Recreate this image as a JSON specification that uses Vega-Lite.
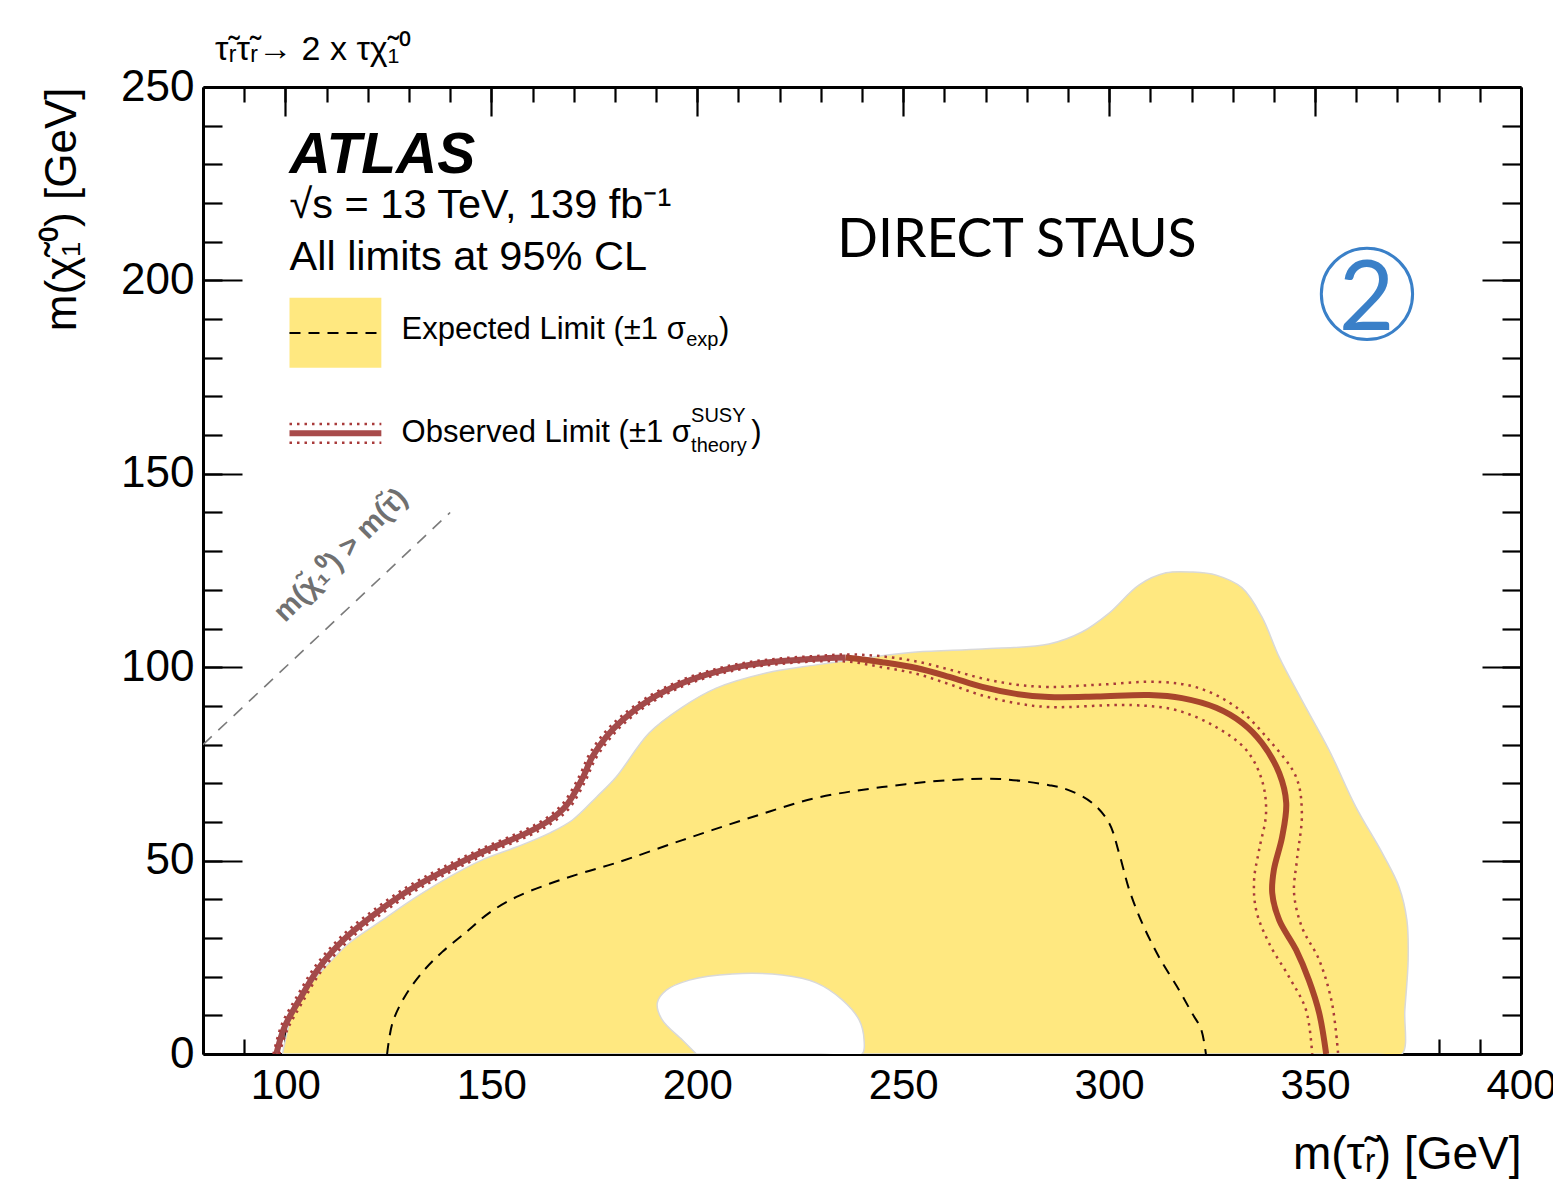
{
  "$schema": "https://vega.github.io/schema/vega-lite/v6.json",
  "width": 1318,
  "height": 967,
  "autosize": {"type": "none"},
  "padding": {"left": 203, "top": 87, "right": 32, "bottom": 137},
  "background": "white",
  "title": {"text": "τ̃ᵣτ̃ᵣ→ 2 x τχ̃₁⁰", "anchor": "start", "frame": "group", "fontSize": 34, "font": "Liberation Sans", "fontWeight": "normal", "color": "black", "dx": 12, "dy": 54, "offset": 25, "baseline": "alphabetic"},
  "datasets": {
    "band": [
      {"i":0,"x":99.3,"y":0},{"i":1,"x":100.3,"y":5},{"i":2,"x":101.7,"y":10.6},{"i":3,"x":104.5,"y":15.5},{"i":4,"x":107.5,"y":19.9},{"i":5,"x":111.5,"y":24.5},{"i":6,"x":115.5,"y":28.7},{"i":7,"x":123.5,"y":34.6},{"i":8,"x":131.8,"y":40.6},{"i":9,"x":139.8,"y":45.8},{"i":10,"x":147.8,"y":50.2},{"i":11,"x":156.1,"y":53.5},{"i":12,"x":164.1,"y":57.1},{"i":13,"x":169.7,"y":60.5},{"i":14,"x":175.5,"y":66.4},{"i":15,"x":180.3,"y":71.6},{"i":16,"x":188.3,"y":83},{"i":17,"x":196.4,"y":89.7},{"i":18,"x":204.6,"y":94.6},{"i":19,"x":216.7,"y":98.5},{"i":20,"x":228.9,"y":100.6},{"i":21,"x":241,"y":102.4},{"i":22,"x":253.2,"y":103.9},{"i":23,"x":269.2,"y":104.7},{"i":24,"x":285.4,"y":106},{"i":25,"x":293.4,"y":109.1},{"i":26,"x":300,"y":114},{"i":27,"x":307.3,"y":121.3},{"i":28,"x":313.8,"y":124.4},{"i":29,"x":320.1,"y":124.6},{"i":30,"x":326,"y":123.8},{"i":31,"x":332.3,"y":120.5},{"i":32,"x":337.1,"y":113},{"i":33,"x":341.3,"y":102.6},{"i":34,"x":346.8,"y":91.5},{"i":35,"x":353.4,"y":78.6},{"i":36,"x":359.9,"y":63.9},{"i":37,"x":366.3,"y":52},{"i":38,"x":370.4,"y":43.2},{"i":39,"x":372.3,"y":34.6},{"i":40,"x":372.6,"y":24.3},{"i":41,"x":371.8,"y":11.4},{"i":42,"x":371.1,"y":0},{"i":43,"x":365,"y":0},{"i":44,"x":105,"y":0},{"i":45,"x":99.3,"y":0}
    ],
    "hole": [
      {"i":0,"x":199.8,"y":0},{"i":1,"x":196.4,"y":3.6},{"i":2,"x":191.5,"y":8.8},{"i":3,"x":190.3,"y":13.2},{"i":4,"x":192.5,"y":16.5},{"i":5,"x":198.1,"y":19.1},{"i":6,"x":208.5,"y":20.7},{"i":7,"x":220.6,"y":20.4},{"i":8,"x":228.9,"y":18.4},{"i":9,"x":235.2,"y":14},{"i":10,"x":239.3,"y":8.8},{"i":11,"x":240.5,"y":3.6},{"i":12,"x":240,"y":0},{"i":13,"x":230,"y":0},{"i":14,"x":210,"y":0},{"i":15,"x":199.8,"y":0}
    ],
    "legbox": [{"x":101,"x2":123.3,"y":177.4,"y2":195.5}],
    "exp": [
      {"s":"c","i":0,"x":124.7,"y":0},{"s":"c","i":1,"x":126,"y":8},{"s":"c","i":2,"x":128.9,"y":14.7},{"s":"c","i":3,"x":133.3,"y":21.2},{"s":"c","i":4,"x":138.1,"y":26.4},{"s":"c","i":5,"x":143.9,"y":31.5},{"s":"c","i":6,"x":149.5,"y":36.5},{"s":"c","i":7,"x":156.1,"y":40.6},{"s":"c","i":8,"x":164.1,"y":44},{"s":"c","i":9,"x":172,"y":46.8},{"s":"c","i":10,"x":180.3,"y":49.4},{"s":"c","i":11,"x":196.4,"y":55.3},{"s":"c","i":12,"x":212.6,"y":61},{"s":"c","i":13,"x":228.9,"y":66.2},{"s":"c","i":14,"x":244.9,"y":69},{"s":"c","i":15,"x":261.2,"y":70.8},{"s":"c","i":16,"x":273.3,"y":71.1},{"s":"c","i":17,"x":285.4,"y":69.5},{"s":"c","i":18,"x":290,"y":68.3},{"s":"c","i":19,"x":295.9,"y":64.9},{"s":"c","i":20,"x":300,"y":59.7},{"s":"c","i":21,"x":302.4,"y":52},{"s":"c","i":22,"x":304.9,"y":42.4},{"s":"c","i":23,"x":308,"y":33.9},{"s":"c","i":24,"x":312.1,"y":25.1},{"s":"c","i":25,"x":317,"y":16.5},{"s":"c","i":26,"x":320.1,"y":10.6},{"s":"c","i":27,"x":322.3,"y":6.5},{"s":"c","i":28,"x":323.5,"y":0},
      {"s":"leg","i":0,"x":101,"y":186.4},{"s":"leg","i":1,"x":123.3,"y":186.4}
    ],
    "diag": [{"i":0,"x":80,"y":80},{"i":1,"x":140,"y":140}],
    "obs": [
      {"s":"a","i":0,"x":97.8,"y":0},{"s":"a","i":1,"x":99.8,"y":7},{"s":"a","i":2,"x":103.4,"y":14},{"s":"a","i":3,"x":108.3,"y":22.5},{"s":"a","i":4,"x":114.8,"y":30.2},{"s":"a","i":5,"x":122.1,"y":36.5},{"s":"a","i":6,"x":130.1,"y":42.4},{"s":"a","i":7,"x":138.1,"y":47.1},{"s":"a","i":8,"x":147.8,"y":52.2},{"s":"a","i":9,"x":158.5,"y":57.1},{"s":"a","i":10,"x":164.1,"y":60.4},{"s":"a","i":11,"x":168.2,"y":64.2},{"s":"a","i":12,"x":172.1,"y":71.2},{"s":"a","i":13,"x":174.5,"y":76.8},{"s":"a","i":14,"x":177.9,"y":82},{"s":"a","i":15,"x":181.8,"y":86.3},{"s":"a","i":16,"x":188.3,"y":91.5},{"s":"a","i":17,"x":196.4,"y":95.9},{"s":"a","i":18,"x":204.6,"y":98.8},{"s":"a","i":19,"x":212.6,"y":100.6},{"s":"a","i":20,"x":220.6,"y":101.6},{"s":"a","i":21,"x":228.9,"y":102.2},{"s":"a","i":22,"x":236,"y":102.5},
      {"s":"b","i":0,"x":236,"y":102.5},{"s":"b","i":1,"x":244.9,"y":101.3},{"s":"b","i":2,"x":253.2,"y":99.8},{"s":"b","i":3,"x":261.2,"y":97.5},{"s":"b","i":4,"x":269.2,"y":94.9},{"s":"b","i":5,"x":277.4,"y":93.1},{"s":"b","i":6,"x":285.4,"y":92.3},{"s":"b","i":7,"x":297,"y":92.4},{"s":"b","i":8,"x":309.7,"y":92.8},{"s":"b","i":9,"x":317.7,"y":92},{"s":"b","i":10,"x":326,"y":89.5},{"s":"b","i":11,"x":332.3,"y":85.6},{"s":"b","i":12,"x":337.1,"y":80.4},{"s":"b","i":13,"x":341.3,"y":72.6},{"s":"b","i":14,"x":343,"y":64.9},{"s":"b","i":15,"x":342,"y":56.1},{"s":"b","i":16,"x":340,"y":47.6},{"s":"b","i":17,"x":339.6,"y":41.6},{"s":"b","i":18,"x":341.3,"y":34.6},{"s":"b","i":19,"x":345.4,"y":26.9},{"s":"b","i":20,"x":348.5,"y":19.1},{"s":"b","i":21,"x":351,"y":10.6},{"s":"b","i":22,"x":352.7,"y":0},
      {"s":"leg","i":0,"x":101,"y":160.5},{"s":"leg","i":1,"x":123.3,"y":160.5}
    ],
    "up": [
      {"s":"c","i":0,"x":97.1,"y":0},{"s":"c","i":1,"x":99.1,"y":7.6},{"s":"c","i":2,"x":102.7,"y":14.7},{"s":"c","i":3,"x":107.6,"y":23.2},{"s":"c","i":4,"x":114.1,"y":30.9},{"s":"c","i":5,"x":121.4,"y":37.2},{"s":"c","i":6,"x":129.4,"y":43.1},{"s":"c","i":7,"x":137.4,"y":47.8},{"s":"c","i":8,"x":147.2,"y":52.9},{"s":"c","i":9,"x":157.9,"y":57.8},{"s":"c","i":10,"x":163.5,"y":61.1},{"s":"c","i":11,"x":167.5,"y":64.9},{"s":"c","i":12,"x":171.4,"y":71.9},{"s":"c","i":13,"x":173.8,"y":77.5},{"s":"c","i":14,"x":177.2,"y":82.7},{"s":"c","i":15,"x":181.2,"y":87},{"s":"c","i":16,"x":187.8,"y":92.2},{"s":"c","i":17,"x":196,"y":96.6},{"s":"c","i":18,"x":204.3,"y":99.5},{"s":"c","i":19,"x":212.4,"y":101.3},{"s":"c","i":20,"x":220.5,"y":102.3},{"s":"c","i":21,"x":228.9,"y":102.9},{"s":"c","i":22,"x":236.9,"y":103.3},{"s":"c","i":23,"x":244.9,"y":102.8},{"s":"c","i":24,"x":253.2,"y":101.5},{"s":"c","i":25,"x":261.2,"y":99.4},{"s":"c","i":26,"x":269.2,"y":97.1},{"s":"c","i":27,"x":277.4,"y":95.5},{"s":"c","i":28,"x":285.4,"y":94.9},{"s":"c","i":29,"x":298,"y":95.5},{"s":"c","i":30,"x":312.1,"y":96.2},{"s":"c","i":31,"x":321.8,"y":94.6},{"s":"c","i":32,"x":330.8,"y":89.7},{"s":"c","i":33,"x":338.8,"y":81.2},{"s":"c","i":34,"x":345.4,"y":71.6},{"s":"c","i":35,"x":346.8,"y":62.3},{"s":"c","i":36,"x":345.6,"y":50.2},{"s":"c","i":37,"x":344.9,"y":41.6},{"s":"c","i":38,"x":346.8,"y":32.8},{"s":"c","i":39,"x":351,"y":24.3},{"s":"c","i":40,"x":354.1,"y":13.2},{"s":"c","i":41,"x":355.6,"y":0},
      {"s":"leg","i":0,"x":101,"y":162.9},{"s":"leg","i":1,"x":123.3,"y":162.9}
    ],
    "dn": [
      {"s":"c","i":0,"x":98.5,"y":0},{"s":"c","i":1,"x":100.5,"y":6.3},{"s":"c","i":2,"x":104.1,"y":13.3},{"s":"c","i":3,"x":109,"y":21.8},{"s":"c","i":4,"x":115.5,"y":29.5},{"s":"c","i":5,"x":122.8,"y":35.8},{"s":"c","i":6,"x":130.8,"y":41.7},{"s":"c","i":7,"x":138.8,"y":46.4},{"s":"c","i":8,"x":148.4,"y":51.5},{"s":"c","i":9,"x":159.1,"y":56.4},{"s":"c","i":10,"x":164.7,"y":59.7},{"s":"c","i":11,"x":168.9,"y":63.5},{"s":"c","i":12,"x":172.8,"y":70.5},{"s":"c","i":13,"x":175.2,"y":76.1},{"s":"c","i":14,"x":178.6,"y":81.3},{"s":"c","i":15,"x":182.4,"y":85.6},{"s":"c","i":16,"x":188.8,"y":90.8},{"s":"c","i":17,"x":196.8,"y":95.2},{"s":"c","i":18,"x":204.9,"y":98.1},{"s":"c","i":19,"x":212.8,"y":99.9},{"s":"c","i":20,"x":220.7,"y":100.9},{"s":"c","i":21,"x":228.9,"y":101.5},{"s":"c","i":22,"x":236.9,"y":101.4},{"s":"c","i":23,"x":244.9,"y":100},{"s":"c","i":24,"x":253.2,"y":98.3},{"s":"c","i":25,"x":261.2,"y":95.6},{"s":"c","i":26,"x":269.2,"y":92.7},{"s":"c","i":27,"x":277.4,"y":90.7},{"s":"c","i":28,"x":285.4,"y":89.7},{"s":"c","i":29,"x":305.6,"y":90.2},{"s":"c","i":30,"x":316.3,"y":88.9},{"s":"c","i":31,"x":326,"y":84.5},{"s":"c","i":32,"x":333.3,"y":78.6},{"s":"c","i":33,"x":337.1,"y":70.8},{"s":"c","i":34,"x":338.1,"y":62.3},{"s":"c","i":35,"x":336.4,"y":52.7},{"s":"c","i":36,"x":335.2,"y":45},{"s":"c","i":37,"x":335.7,"y":37.2},{"s":"c","i":38,"x":338.8,"y":28.7},{"s":"c","i":39,"x":343.7,"y":19.9},{"s":"c","i":40,"x":347.8,"y":11.4},{"s":"c","i":41,"x":349.3,"y":0},
      {"s":"leg","i":0,"x":101,"y":158},{"s":"leg","i":1,"x":123.3,"y":158}
    ],
    "t_atlas": [{"x":101,"y":227.7,"t":"ATLAS"}],
    "t_info": [{"x":101,"y":216.1,"t":"√s = 13 TeV, 139 fb⁻¹"},{"x":101,"y":202.7,"t":"All limits at 95% CL"}],
    "t_direct": [{"x":234,"y":206.1,"t":"DIRECT STAUS"}],
    "t_leg": [{"x":128.2,"y":184.8,"t":"Expected Limit (±1 σ"},{"x":205.3,"y":184.8,"t":")"},{"x":128.2,"y":158.3,"t":"Observed Limit (±1 σ"},{"x":213.1,"y":158.3,"t":")"}],
    "t_small": [{"x":197.3,"y":183.0,"t":"exp"},{"x":198.5,"y":163.5,"t":"SUSY"},{"x":198.5,"y":155.7,"t":"theory"}],
    "t_two": [{"x":362.5,"y":187.2,"t":"2"}],
    "circ": [{"x":362.6,"y":196.5}],
    "t_diag": [{"x":113.4,"y":129,"t":"m(χ̃₁⁰) > m(τ̃)"}]
  },
  "layer": [
    {
      "data": {"name": "band"},
      "mark": {"type": "line", "fill": "#FFE880", "stroke": "#D9D9D9", "strokeWidth": 1.5, "interpolate": "catmull-rom", "clip": true},
      "encoding": {
        "x": {"field": "x", "type": "quantitative", "scale": {"domain": [80, 400], "nice": false, "zero": false},
          "axis": {"orient": "bottom", "values": [100,150,200,250,300,350,400], "ticks": false, "domain": true, "labelFontSize": 42, "labelPadding": 11, "labelFlush": false, "labelOverlap": false, "title": "m(τ̃ᵣ) [GeV]", "titleFontSize": 46, "titleFontWeight": "normal", "titleAnchor": "end", "titlePadding": 26}},
        "y": {"field": "y", "type": "quantitative", "scale": {"domain": [0, 250], "nice": false, "zero": false},
          "axis": {"orient": "left", "values": [0,50,100,150,200,250], "ticks": false, "domain": true, "labelFontSize": 44, "labelPadding": 9, "labelFlush": false, "labelOverlap": false, "title": "m(χ̃₁⁰) [GeV]", "titleFontSize": 44, "titleFontWeight": "normal", "titleAnchor": "end", "titlePadding": 36}},
        "order": {"field": "i", "type": "quantitative"}
      }
    },
    {
      "data": {"name": "legbox"},
      "mark": {"type": "rect", "color": "#FFE880"},
      "encoding": {
        "x": {"field": "x", "type": "quantitative", "scale": {"domain": [80, 400], "nice": false, "zero": false}, "axis": null},
        "x2": {"field": "x2"},
        "y": {"field": "y", "type": "quantitative", "scale": {"domain": [0, 250], "nice": false, "zero": false}, "axis": null},
        "y2": {"field": "y2"}
      }
    },
    {
      "data": {"name": "hole"},
      "mark": {"type": "line", "fill": "white", "stroke": "#D9D9D9", "strokeWidth": 1.5, "interpolate": "catmull-rom", "clip": true},
      "encoding": {
        "x": {"field": "x", "type": "quantitative", "scale": {"domain": [80, 400], "nice": false, "zero": false},
          "axis": {"orient": "bottom", "values": [80,90,100,110,120,130,140,150,160,170,180,190,200,210,220,230,240,250,260,270,280,290,300,310,320,330,340,350,360,370,380,390,400], "tickSize": -15, "labels": false, "domain": false, "title": null}},
        "y": {"field": "y", "type": "quantitative", "scale": {"domain": [0, 250], "nice": false, "zero": false},
          "axis": {"orient": "left", "values": [0,10,20,30,40,50,60,70,80,90,100,110,120,130,140,150,160,170,180,190,200,210,220,230,240,250], "tickSize": -19, "labels": false, "domain": false, "title": null}},
        "order": {"field": "i", "type": "quantitative"}
      }
    },
    {
      "data": {"name": "exp"},
      "mark": {"type": "line", "color": "black", "strokeWidth": 2, "strokeDash": [11, 8], "interpolate": "catmull-rom", "clip": true},
      "encoding": {
        "x": {"field": "x", "type": "quantitative", "scale": {"domain": [80, 400], "nice": false, "zero": false},
          "axis": {"orient": "bottom", "values": [100,150,200,250,300,350], "tickSize": -29, "labels": false, "domain": false, "title": null}},
        "y": {"field": "y", "type": "quantitative", "scale": {"domain": [0, 250], "nice": false, "zero": false},
          "axis": {"orient": "left", "values": [50,100,150,200], "tickSize": -39, "labels": false, "domain": false, "title": null}},
        "detail": {"field": "s", "type": "nominal"},
        "order": {"field": "i", "type": "quantitative"}
      }
    },
    {
      "data": {"name": "diag"},
      "mark": {"type": "line", "color": "#7A7A7A", "strokeWidth": 1.6, "strokeDash": [12, 9], "clip": true},
      "encoding": {
        "x": {"field": "x", "type": "quantitative", "scale": {"domain": [80, 400], "nice": false, "zero": false}, "axis": null},
        "y": {"field": "y", "type": "quantitative", "scale": {"domain": [0, 250], "nice": false, "zero": false}, "axis": null},
        "order": {"field": "i", "type": "quantitative"}
      }
    },
    {
      "data": {"name": "obs"},
      "mark": {"type": "line", "strokeWidth": 6, "interpolate": "catmull-rom", "clip": true},
      "encoding": {
        "x": {"field": "x", "type": "quantitative", "scale": {"domain": [80, 400], "nice": false, "zero": false}, "axis": null},
        "y": {"field": "y", "type": "quantitative", "scale": {"domain": [0, 250], "nice": false, "zero": false}, "axis": null},
        "color": {"field": "s", "type": "nominal", "scale": {"domain": ["a", "b", "leg"], "range": ["#A34A4A", "#A8452C", "#A84B4B"]}, "legend": null},
        "order": {"field": "i", "type": "quantitative"}
      }
    },
    {
      "data": {"name": "up"},
      "mark": {"type": "line", "color": "#A83A3A", "strokeWidth": 2.5, "strokeDash": [2.5, 5], "interpolate": "catmull-rom", "clip": true},
      "encoding": {
        "x": {"field": "x", "type": "quantitative", "scale": {"domain": [80, 400], "nice": false, "zero": false},
          "axis": {"orient": "top", "values": [80,90,100,110,120,130,140,150,160,170,180,190,200,210,220,230,240,250,260,270,280,290,300,310,320,330,340,350,360,370,380,390,400], "tickSize": -15, "labels": false, "domain": true, "title": null}},
        "y": {"field": "y", "type": "quantitative", "scale": {"domain": [0, 250], "nice": false, "zero": false},
          "axis": {"orient": "right", "values": [0,10,20,30,40,50,60,70,80,90,100,110,120,130,140,150,160,170,180,190,200,210,220,230,240,250], "tickSize": -19, "labels": false, "domain": true, "title": null}},
        "detail": {"field": "s", "type": "nominal"},
        "order": {"field": "i", "type": "quantitative"}
      }
    },
    {
      "data": {"name": "dn"},
      "mark": {"type": "line", "color": "#A83A3A", "strokeWidth": 2.5, "strokeDash": [2.5, 5], "interpolate": "catmull-rom", "clip": true},
      "encoding": {
        "x": {"field": "x", "type": "quantitative", "scale": {"domain": [80, 400], "nice": false, "zero": false},
          "axis": {"orient": "top", "values": [100,150,200,250,300,350], "tickSize": -29, "labels": false, "domain": false, "title": null}},
        "y": {"field": "y", "type": "quantitative", "scale": {"domain": [0, 250], "nice": false, "zero": false},
          "axis": {"orient": "right", "values": [50,100,150,200], "tickSize": -39, "labels": false, "domain": false, "title": null}},
        "detail": {"field": "s", "type": "nominal"},
        "order": {"field": "i", "type": "quantitative"}
      }
    },
    {
      "data": {"name": "t_atlas"},
      "mark": {"type": "text", "font": "Liberation Sans", "fontSize": 57, "fontWeight": "bold", "fontStyle": "italic", "align": "left", "baseline": "alphabetic", "color": "black"},
      "encoding": {
        "x": {"field": "x", "type": "quantitative", "scale": {"domain": [80, 400], "nice": false, "zero": false}, "axis": null},
        "y": {"field": "y", "type": "quantitative", "scale": {"domain": [0, 250], "nice": false, "zero": false}, "axis": null},
        "text": {"field": "t", "type": "nominal"}
      }
    },
    {
      "data": {"name": "t_info"},
      "mark": {"type": "text", "font": "Liberation Sans", "fontSize": 41.5, "align": "left", "baseline": "alphabetic", "color": "black"},
      "encoding": {
        "x": {"field": "x", "type": "quantitative", "scale": {"domain": [80, 400], "nice": false, "zero": false}, "axis": null},
        "y": {"field": "y", "type": "quantitative", "scale": {"domain": [0, 250], "nice": false, "zero": false}, "axis": null},
        "text": {"field": "t", "type": "nominal"}
      }
    },
    {
      "data": {"name": "t_direct"},
      "mark": {"type": "text", "font": "Lato", "fontSize": 53.5, "align": "left", "baseline": "alphabetic", "color": "black"},
      "encoding": {
        "x": {"field": "x", "type": "quantitative", "scale": {"domain": [80, 400], "nice": false, "zero": false}, "axis": null},
        "y": {"field": "y", "type": "quantitative", "scale": {"domain": [0, 250], "nice": false, "zero": false}, "axis": null},
        "text": {"field": "t", "type": "nominal"}
      }
    },
    {
      "data": {"name": "t_leg"},
      "mark": {"type": "text", "font": "Liberation Sans", "fontSize": 31, "align": "left", "baseline": "alphabetic", "color": "black"},
      "encoding": {
        "x": {"field": "x", "type": "quantitative", "scale": {"domain": [80, 400], "nice": false, "zero": false}, "axis": null},
        "y": {"field": "y", "type": "quantitative", "scale": {"domain": [0, 250], "nice": false, "zero": false}, "axis": null},
        "text": {"field": "t", "type": "nominal"}
      }
    },
    {
      "data": {"name": "t_small"},
      "mark": {"type": "text", "font": "Liberation Sans", "fontSize": 20, "align": "left", "baseline": "alphabetic", "color": "black"},
      "encoding": {
        "x": {"field": "x", "type": "quantitative", "scale": {"domain": [80, 400], "nice": false, "zero": false}, "axis": null},
        "y": {"field": "y", "type": "quantitative", "scale": {"domain": [0, 250], "nice": false, "zero": false}, "axis": null},
        "text": {"field": "t", "type": "nominal"}
      }
    },
    {
      "data": {"name": "circ"},
      "mark": {"type": "point", "shape": "circle", "size": 8330, "filled": false, "stroke": "#3A80C8", "strokeWidth": 3, "opacity": 1},
      "encoding": {
        "x": {"field": "x", "type": "quantitative", "scale": {"domain": [80, 400], "nice": false, "zero": false}, "axis": null},
        "y": {"field": "y", "type": "quantitative", "scale": {"domain": [0, 250], "nice": false, "zero": false}, "axis": null}
      }
    },
    {
      "data": {"name": "t_two"},
      "mark": {"type": "text", "font": "Lato", "fontSize": 96, "align": "center", "baseline": "alphabetic", "color": "#3A80C8"},
      "encoding": {
        "x": {"field": "x", "type": "quantitative", "scale": {"domain": [80, 400], "nice": false, "zero": false}, "axis": null},
        "y": {"field": "y", "type": "quantitative", "scale": {"domain": [0, 250], "nice": false, "zero": false}, "axis": null},
        "text": {"field": "t", "type": "nominal"}
      }
    },
    {
      "data": {"name": "t_diag"},
      "mark": {"type": "text", "font": "Liberation Sans", "fontSize": 29, "fontWeight": "bold", "align": "center", "baseline": "middle", "angle": 315, "color": "#707070"},
      "encoding": {
        "x": {"field": "x", "type": "quantitative", "scale": {"domain": [80, 400], "nice": false, "zero": false}, "axis": null},
        "y": {"field": "y", "type": "quantitative", "scale": {"domain": [0, 250], "nice": false, "zero": false}, "axis": null},
        "text": {"field": "t", "type": "nominal"}
      }
    }
  ],
  "resolve": {"axis": {"x": "independent", "y": "independent"}},
  "config": {
    "font": "Liberation Sans",
    "view": {"stroke": null},
    "axis": {"grid": false, "zindex": 1, "tickColor": "black", "domainColor": "black", "labelColor": "black", "titleColor": "black", "labelFont": "Liberation Sans", "titleFont": "Liberation Sans", "tickWidth": 2.2, "domainWidth": 3}
  }
}
